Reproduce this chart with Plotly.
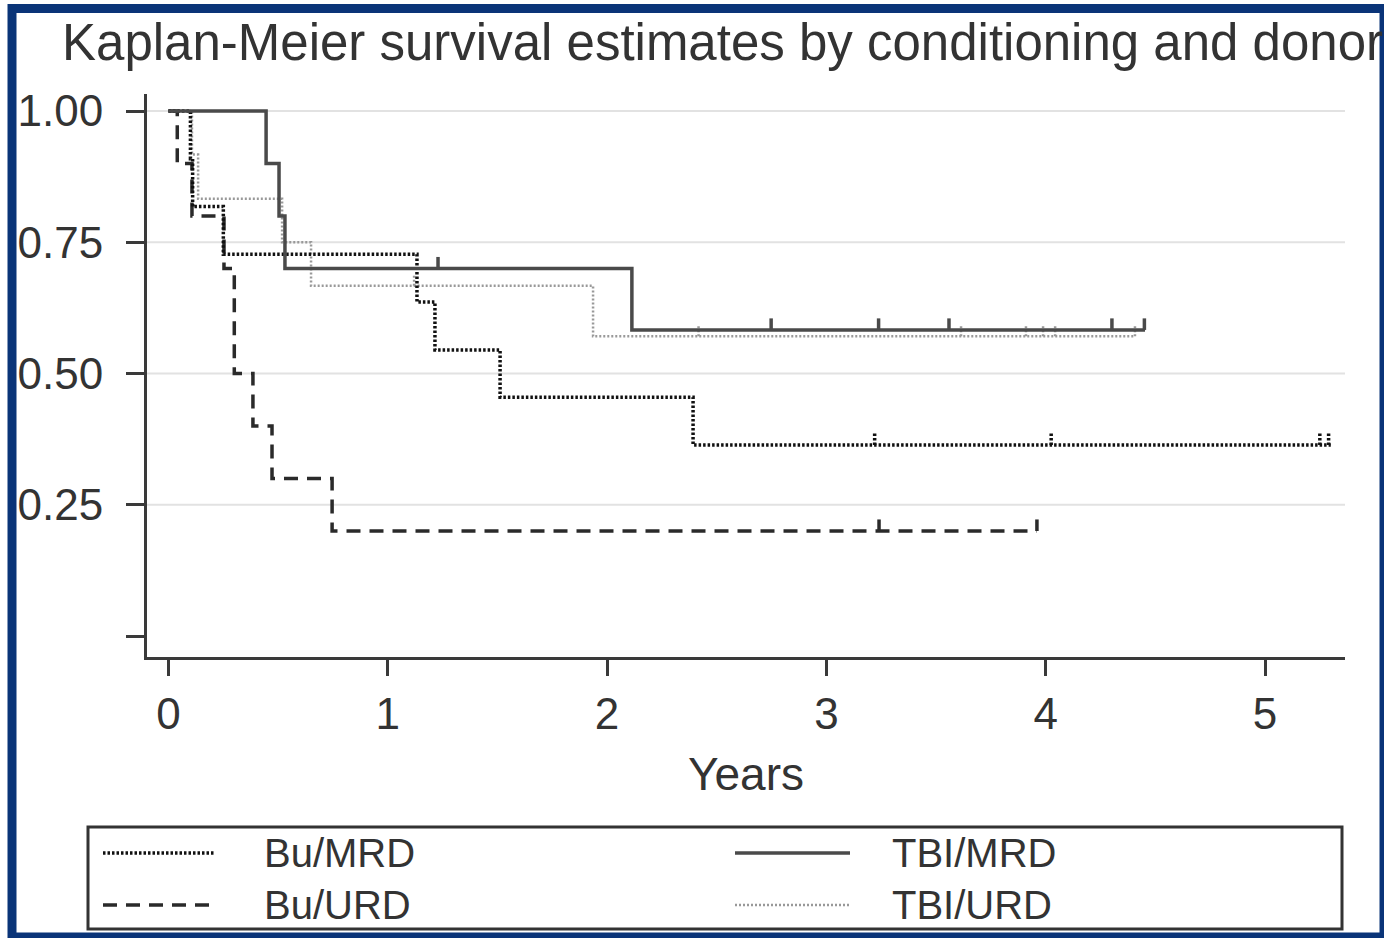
import plotly.graph_objects as go

# ---------------- data ----------------
bu_mrd_times = [0.10, 0.11, 0.25, 1.133, 1.215, 1.512, 2.392]
bu_mrd_surv = [0.909, 0.818, 0.727, 0.636, 0.545, 0.455, 0.364]
bu_mrd_end = 5.30
bu_mrd_censor = [3.22, 4.025, 5.25, 5.29]

bu_urd_times = [0.04, 0.107, 0.253, 0.30, 0.385, 0.472, 0.746]
bu_urd_surv = [0.9, 0.8, 0.7, 0.5, 0.4, 0.3, 0.2]
bu_urd_end = 3.96
bu_urd_censor = [3.24, 3.96]

tbi_mrd_times = [0.445, 0.504, 0.531, 2.113]
tbi_mrd_surv = [0.9, 0.8, 0.7, 0.583]
tbi_mrd_end = 4.453
tbi_mrd_censor = [1.229, 2.748, 3.238, 3.559, 4.302, 4.45]

tbi_urd_times = [0.107, 0.135, 0.518, 0.65, 1.936]
tbi_urd_surv = [0.917, 0.833, 0.75, 0.667, 0.571]
tbi_urd_end = 4.407
tbi_urd_censor = [1.12, 2.417, 3.614, 3.91, 3.988, 4.043, 4.407]

groups = ["Bu/MRD", "Bu/URD", "TBI/MRD", "TBI/URD"]
x_ticks = [0, 1, 2, 3, 4, 5]
y_ticks = [0, 0.25, 0.5, 0.75, 1.0]
y_tick_labels = ["", "0.25", "0.50", "0.75", "1.00"]
grid_vals = [0.25, 0.5, 0.75, 1.0]

TITLE = "Kaplan-Meier survival estimates by conditioning and donor"
FONT = "Liberation Sans"
TXT = "#333333"
AX = "#3a3a3a"
NAVY = "#0a3478"
CENSOR_H = 0.022

styles = {
    "Bu/MRD": dict(color="#111111", width=3.5, dash="2.5px,2px"),
    "Bu/URD": dict(color="#2a2a2a", width=3.5, dash="14px,9px"),
    "TBI/MRD": dict(color="#4a4a4a", width=3.5, dash="solid"),
    "TBI/URD": dict(color="#999999", width=2.5, dash="2px,2px"),
}


def km_path(times, surv, end, censor):
    xs, ys = [0.0], [1.0]
    prev = 1.0
    for t, s in zip(times, surv):
        xs += [t, t]
        ys += [prev, s]
        prev = s
    xs.append(end)
    ys.append(prev)
    # censor ticks (drawn upward from the curve value at censor time)
    for c in censor:
        val = 1.0
        for t, s in zip(times, surv):
            if t <= c:
                val = s
        xs += [None, c, c]
        ys += [None, val, val + CENSOR_H]
    return xs, ys


data = {
    "Bu/MRD": (bu_mrd_times, bu_mrd_surv, bu_mrd_end, bu_mrd_censor),
    "Bu/URD": (bu_urd_times, bu_urd_surv, bu_urd_end, bu_urd_censor),
    "TBI/MRD": (tbi_mrd_times, tbi_mrd_surv, tbi_mrd_end, tbi_mrd_censor),
    "TBI/URD": (tbi_urd_times, tbi_urd_surv, tbi_urd_end, tbi_urd_censor),
}

fig = go.Figure()
for g in ["TBI/URD", "Bu/URD", "Bu/MRD", "TBI/MRD"]:
    xs, ys = km_path(*data[g])
    fig.add_trace(go.Scatter(x=xs, y=ys, mode="lines", name=g, line=styles[g],
                             showlegend=False, hoverinfo="skip", connectgaps=False))

# ---------------- layout ----------------
W, H = 1384, 938
L, R, T, B = 147, 39, 94, 281
PW, PH = W - L - R, H - T - B


def px(xp):
    return (xp - L) / PW


def py(yp):
    return (H - B - yp) / PH


shapes = []
for v in grid_vals:
    shapes.append(dict(type="line", xref="paper", yref="y", x0=0, x1=1, y0=v, y1=v,
                       line=dict(color="#e2e2e2", width=2), layer="below"))

# legend box
shapes.append(dict(type="rect", xref="paper", yref="paper", x0=px(88), x1=px(1342),
                   y0=py(929), y1=py(827), line=dict(color="#333333", width=3)))
legend_pos = {
    "Bu/MRD": (103, 215, 262, 853),
    "Bu/URD": (103, 215, 262, 905),
    "TBI/MRD": (735, 850, 890, 853),
    "TBI/URD": (735, 850, 890, 905),
}
annotations = []
for g in groups:
    x0, x1, xt, yy = legend_pos[g]
    st = styles[g]
    shapes.append(dict(type="line", xref="paper", yref="paper", x0=px(x0), x1=px(x1),
                       y0=py(yy), y1=py(yy),
                       line=dict(color=st["color"], width=st["width"], dash=st["dash"])))
    annotations.append(dict(text=g, xref="paper", yref="paper", x=px(xt), y=py(yy),
                            xanchor="left", yanchor="middle", showarrow=False,
                            font=dict(family=FONT, size=40, color=TXT)))

# navy frame
shapes.append(dict(type="rect", xref="paper", yref="paper", x0=px(12), x1=px(1384),
                   y0=py(937), y1=py(8.5), line=dict(color=NAVY, width=9)))

fig.update_layout(
    width=W, height=H,
    margin=dict(l=L, r=R, t=T, b=B),
    paper_bgcolor="white", plot_bgcolor="white",
    font=dict(family=FONT, color=TXT),
    title=dict(text=TITLE, x=62 / W, xanchor="left", xref="container",
               y=1 - 42 / H, yanchor="middle", yref="container",
               font=dict(family=FONT, size=51, color=TXT)),
    shapes=shapes,
    annotations=annotations,
    xaxis=dict(range=[(L - 168.5) / 219.3, (W - R - 168.5) / 219.3],
               tickvals=x_ticks, ticktext=[str(t) for t in x_ticks],
               ticks="outside", ticklen=16, tickwidth=3, tickcolor=AX,
               showline=True, linewidth=3, linecolor=AX, mirror=False,
               showgrid=False, zeroline=False, ticklabelstandoff=0,
               tickfont=dict(family=FONT, size=44, color=TXT),
               title=dict(text="Years", font=dict(family=FONT, size=46, color=TXT),
                          standoff=22)),
    yaxis=dict(range=[(636 - (H - B)) / 525, (636 - T) / 525],
               tickvals=y_ticks, ticktext=y_tick_labels,
               ticks="outside", ticklen=18, tickwidth=3, tickcolor=AX,
               showline=True, linewidth=3, linecolor=AX, mirror=False,
               showgrid=False, zeroline=False, ticklabelstandoff=14,
               tickfont=dict(family=FONT, size=44, color=TXT)),
)

fig.write_html("out.html", config={"displayModeBar": False},
               post_script="document.body.style.margin='0';document.body.style.overflow='hidden';")
